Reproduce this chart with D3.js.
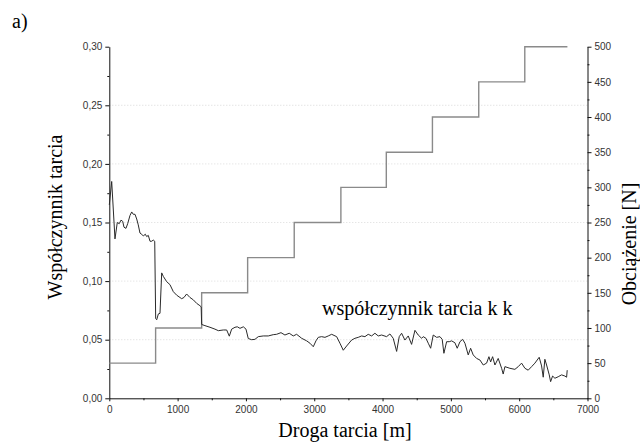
<!DOCTYPE html>
<html>
<head>
<meta charset="utf-8">
<script src="https://cdn.jsdelivr.net/npm/d3@7"></script>
<style>
    body { margin: 0; background: #fff; }
    .axis text { font-family: 'Liberation Sans', Arial, sans-serif; font-size: 10px; fill: #333; }
    .axis path, .axis line { stroke: #111; }
    .title { font-family: 'Liberation Serif', 'Times New Roman', serif; font-size: 20px; fill: #000; }
</style>
</head>
<body>
<div id="chart"></div>
<script>
// droga tarcia [m] i współczynnik tarcia
const distance = [0, 35, 83, 117, 146, 171, 196, 215, 244, 269, 303, 328, 351, 376, 401, 424, 449, 474, 498, 527,
    547, 571, 596, 620, 644, 665, 679, 694, 718, 742, 767, 791, 840, 888, 937, 986, 1059, 1093, 1132, 1181,
    1230, 1279, 1327, 1345, 1352, 1400, 1474, 1547, 1596, 1669, 1718, 1757, 1791, 1840, 1874, 1913, 1962, 2001, 2034, 2084,
    2132, 2181, 2254, 2327, 2400, 2449, 2513, 2571, 2634, 2693, 2742, 2816, 2889, 2937, 2986, 3025, 3059, 3108, 3157, 3205,
    3255, 3328, 3376, 3425, 3474, 3547, 3596, 3644, 3694, 3742, 3790, 3840, 3888, 3937, 3986, 4059, 4108, 4156, 4206, 4244,
    4279, 4327, 4376, 4425, 4474, 4522, 4572, 4595, 4635, 4669, 4704, 4742, 4791, 4840, 4873, 4898, 4938, 4976, 5011, 5059,
    5093, 5133, 5172, 5206, 5254, 5289, 5327, 5377, 5425, 5474, 5523, 5557, 5582, 5611, 5645, 5693, 5743, 5766, 5791, 5864,
    5937, 5986, 6035, 6084, 6132, 6182, 6230, 6293, 6328, 6352, 6376, 6401, 6440, 6460, 6489, 6523, 6571, 6620, 6669, 6694, 6703];
const friction = [0.165, 0.185, 0.136, 0.150, 0.149, 0.152, 0.151, 0.146, 0.145, 0.149, 0.156, 0.159, 0.157, 0.157, 0.153, 0.148, 0.141, 0.140, 0.1385, 0.140,
    0.138, 0.139, 0.134, 0.134, 0.135, 0.134, 0.068, 0.067, 0.072, 0.0725, 0.107, 0.104, 0.0995, 0.097, 0.091, 0.088, 0.085, 0.086, 0.089, 0.086,
    0.084, 0.081, 0.079, 0.078, 0.063, 0.062, 0.0606, 0.059, 0.0577, 0.0583, 0.0583, 0.053, 0.059, 0.0606, 0.061, 0.0597, 0.061, 0.059, 0.051, 0.050,
    0.0503, 0.0526, 0.0532, 0.0532, 0.0543, 0.0546, 0.056, 0.054, 0.0555, 0.0532, 0.0546, 0.0512, 0.049, 0.047, 0.044, 0.049, 0.052, 0.0526, 0.052, 0.0532,
    0.0546, 0.0526, 0.047, 0.041, 0.0446, 0.0497, 0.0512, 0.052, 0.0532, 0.0526, 0.0546, 0.0532, 0.0555, 0.0532, 0.054, 0.0526, 0.0549, 0.0512, 0.040, 0.0526,
    0.0555, 0.0497, 0.0532, 0.046, 0.058, 0.054, 0.0512, 0.0526, 0.0512, 0.047, 0.0427, 0.054, 0.052, 0.0526, 0.0503, 0.0384, 0.0483, 0.0483, 0.049, 0.0474,
    0.0427, 0.0483, 0.0503, 0.047, 0.037, 0.0427, 0.037, 0.034, 0.0327, 0.0284, 0.030, 0.0355, 0.031, 0.0355, 0.0284, 0.034, 0.0256, 0.0207, 0.027, 0.0256,
    0.0247, 0.027, 0.030, 0.0256, 0.024, 0.027, 0.030, 0.035, 0.0276, 0.018, 0.0333, 0.0284, 0.020, 0.0142, 0.019, 0.0171, 0.0184, 0.020, 0.019, 0.018, 0.024];

// obciążenie [N] - schodki
const loadStart = [0, 678, 1352, 2025, 2707, 3390, 4055, 4730, 5408, 6082];
const loadValue = [50, 100, 150, 200, 250, 300, 350, 400, 450, 500];
const loadEnd = 6706;

const xTicks = [0, 1000, 2000, 3000, 4000, 5000, 6000, 7000];
const yLeftTicks = [0, 0.05, 0.10, 0.15, 0.20, 0.25, 0.30];
const yRightTicks = [0, 50, 100, 150, 200, 250, 300, 350, 400, 450, 500];

const width = 640, height = 445;
const plot = {left: 109.3, right: 587.5, top: 46.7, bottom: 398.3};

const svg = d3.select('#chart').append('svg')
    .attr('width', width)
    .attr('height', height);

const xScale = d3.scaleLinear().domain([0, 7000]).range([plot.left, plot.right]);
const yLeft = d3.scaleLinear().domain([0, 0.3]).range([plot.bottom, plot.top]);
const yRight = d3.scaleLinear().domain([0, 500]).range([plot.bottom, plot.top]);

const comma = v => d3.format('.2f')(v).replace('.', ',');

// siatka
svg.append('g')
    .selectAll('line')
    .data(yLeftTicks.filter(t => t > 0 && t < 0.3))
    .enter()
    .append('line')
    .attr('x1', plot.left)
    .attr('x2', plot.right)
    .attr('y1', d => yLeft(d))
    .attr('y2', d => yLeft(d))
    .attr('stroke', '#ccc')
    .attr('stroke-width', 0.7)
    .attr('stroke-dasharray', '1,2');

// osie - podziałka pomocnicza
const minor = (lo, hi, step) => d3.range(lo, hi + step / 2, step);

svg.append('g').attr('class', 'axis')
    .attr('transform', `translate(0, ${plot.bottom})`)
    .call(d3.axisBottom(xScale).tickValues(minor(500, 6500, 1000)).tickSize(2).tickFormat(''))
    .select('.domain').remove();
svg.append('g').attr('class', 'axis')
    .attr('transform', `translate(${plot.left}, 0)`)
    .call(d3.axisLeft(yLeft).tickValues(minor(0.025, 0.275, 0.05)).tickSize(2).tickFormat(''))
    .select('.domain').remove();
svg.append('g').attr('class', 'axis')
    .attr('transform', `translate(${plot.right}, 0)`)
    .call(d3.axisRight(yRight).tickValues(minor(25, 475, 50)).tickSize(2).tickFormat(''))
    .select('.domain').remove();

const xAxis = d3.axisBottom(xScale).tickValues(xTicks).tickSize(3).tickSizeOuter(0).tickPadding(5).tickFormat(d3.format('d'));
const yLeftAxis = d3.axisLeft(yLeft).tickValues(yLeftTicks).tickSize(4).tickSizeOuter(0).tickPadding(3).tickFormat(comma);
const yRightAxis = d3.axisRight(yRight).tickValues(yRightTicks).tickSize(4).tickSizeOuter(0).tickPadding(3);

svg.append('g').attr('class', 'axis x-axis')
    .attr('transform', `translate(0, ${plot.bottom})`)
    .call(xAxis);
svg.append('g').attr('class', 'axis y-axis')
    .attr('transform', `translate(${plot.left}, 0)`)
    .call(yLeftAxis);
svg.append('g').attr('class', 'axis y-axis-right')
    .attr('transform', `translate(${plot.right}, 0)`)
    .call(yRightAxis);

// obciążenie
const loadPts = loadStart.map((s, i) => [s, loadValue[i]]);
loadPts.push([loadEnd, loadValue[loadValue.length - 1]]);

svg.append('path')
    .datum(loadPts)
    .attr('fill', 'none')
    .attr('stroke', '#8a8a8a')
    .attr('stroke-width', 1.4)
    .attr('d', d3.line()
        .x(d => xScale(d[0]))
        .y(d => yRight(d[1]))
        .curve(d3.curveStepAfter));

// współczynnik tarcia
svg.append('path')
    .datum(distance.map((d, i) => [d, friction[i]]))
    .attr('fill', 'none')
    .attr('stroke', '#2a2a2a')
    .attr('stroke-width', 1)
    .attr('d', d3.line()
        .x(d => xScale(d[0]))
        .y(d => yLeft(d[1])));

// napisy
svg.append('text').attr('class', 'title')
    .attr('x', 12).attr('y', 28)
    .text('a)');

svg.append('text').attr('class', 'title')
    .attr('text-anchor', 'middle')
    .attr('transform', 'translate(62, 217) rotate(-90)')
    .text('Współczynnik tarcia');

svg.append('text').attr('class', 'title')
    .attr('text-anchor', 'middle')
    .attr('x', 345).attr('y', 437)
    .text('Droga tarcia [m]');

svg.append('text').attr('class', 'title')
    .attr('text-anchor', 'middle')
    .attr('transform', 'translate(636, 244) rotate(-90)')
    .text('Obciążenie [N]');

svg.append('text').attr('class', 'title')
    .attr('x', 322).attr('y', 315)
    .text('współczynnik tarcia k k');
</script>
</body>
</html>
